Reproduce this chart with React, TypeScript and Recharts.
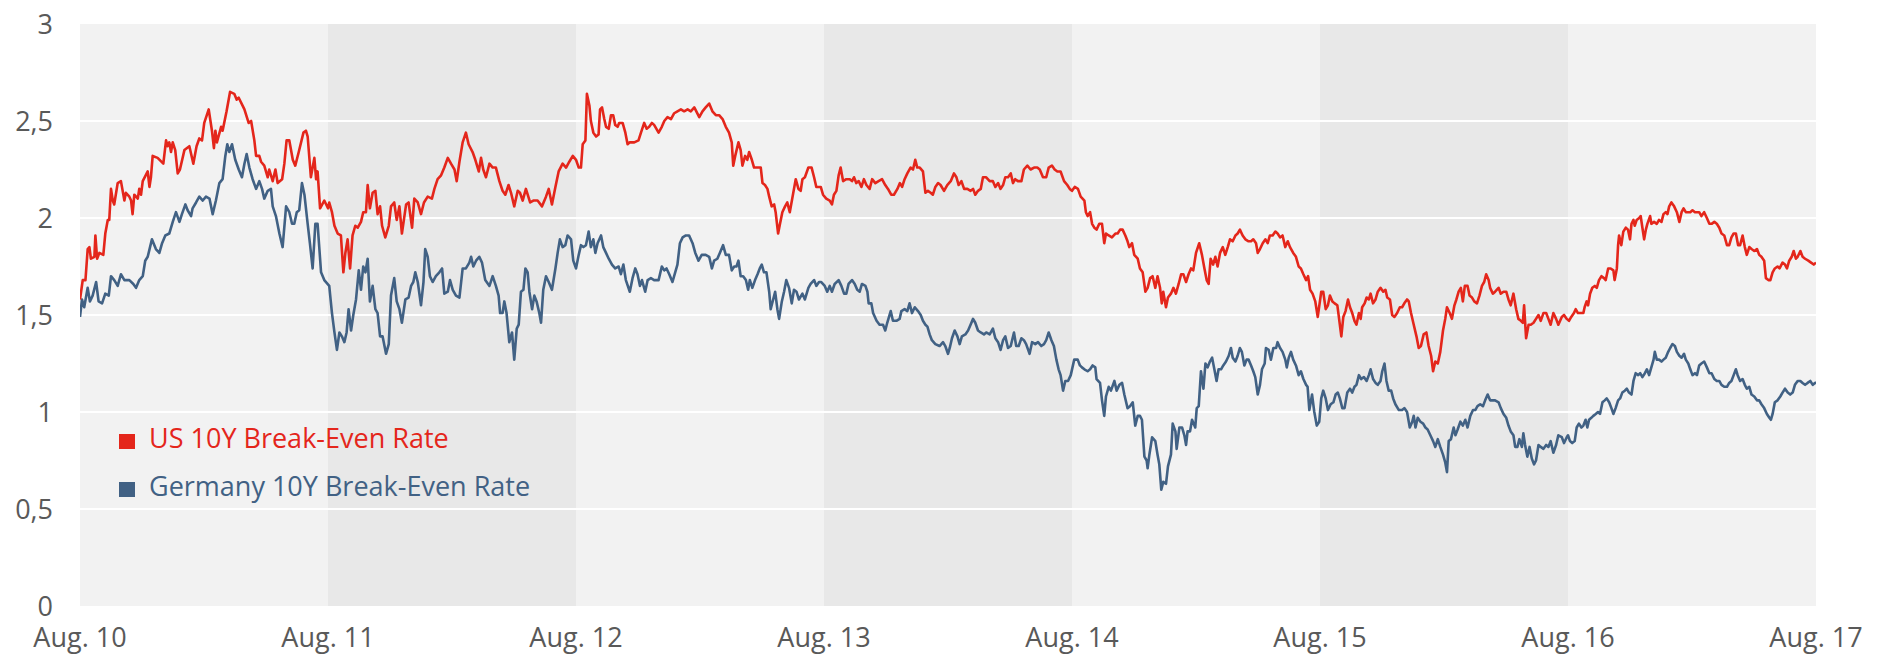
import React from "react";
import {
  LineChart,
  Line,
  XAxis,
  YAxis,
  ReferenceArea,
  ReferenceLine,
  Legend,
} from "recharts";

// ── Axis setup ──
// x is measured in years since Aug. 2010
const xTicks = [0, 1, 2, 3, 4, 5, 6, 7];
const xTickLabels = ["Aug. 10", "Aug. 11", "Aug. 12", "Aug. 13", "Aug. 14", "Aug. 15", "Aug. 16", "Aug. 17"];
const yTicks = [0, 0.5, 1, 1.5, 2, 2.5, 3];
const yGridLines = [0.5, 1, 1.5, 2, 2.5];
const shadedYears = [
  [1, 2],
  [3, 4],
  [5, 6],
];

const seriesNames = ["US 10Y Break-Even Rate", "Germany 10Y Break-Even Rate"];

// ── US 10Y break-even rate, [years since Aug. 10, %] ──
const usBreakEven = [
  [0.0, 1.58], [0.011, 1.68], [0.022, 1.68], [0.031, 1.84], [0.038, 1.85], [0.044, 1.79], [0.058, 1.8], [0.062, 1.91], [0.069, 1.79], [0.078, 1.82],
  [0.094, 1.81], [0.102, 1.92], [0.112, 1.99], [0.118, 1.99], [0.125, 2.15], [0.132, 2.09], [0.138, 2.07], [0.152, 2.18], [0.165, 2.19], [0.179, 2.09],
  [0.185, 2.13], [0.199, 2.11], [0.206, 2.09], [0.212, 2.02], [0.219, 2.12], [0.233, 2.1], [0.239, 2.15], [0.246, 2.12], [0.253, 2.19], [0.273, 2.24],
  [0.28, 2.16], [0.286, 2.21], [0.293, 2.32], [0.313, 2.31], [0.336, 2.28], [0.347, 2.4], [0.353, 2.37], [0.36, 2.39], [0.367, 2.34], [0.374, 2.39],
  [0.384, 2.35], [0.394, 2.23], [0.403, 2.25], [0.421, 2.35], [0.441, 2.37], [0.457, 2.28], [0.47, 2.37], [0.481, 2.41], [0.492, 2.4], [0.501, 2.49],
  [0.519, 2.56], [0.532, 2.45], [0.54, 2.36], [0.546, 2.45], [0.552, 2.39], [0.569, 2.47], [0.575, 2.45], [0.591, 2.55], [0.605, 2.65], [0.622, 2.64],
  [0.632, 2.61], [0.64, 2.62], [0.663, 2.56], [0.68, 2.49], [0.69, 2.5], [0.703, 2.4], [0.71, 2.32], [0.723, 2.32], [0.73, 2.29], [0.743, 2.27],
  [0.757, 2.21], [0.763, 2.25], [0.777, 2.19], [0.788, 2.25], [0.797, 2.18], [0.815, 2.2], [0.824, 2.28], [0.833, 2.4], [0.844, 2.4], [0.858, 2.3],
  [0.868, 2.27], [0.882, 2.34], [0.901, 2.44], [0.911, 2.45], [0.918, 2.42], [0.931, 2.21], [0.945, 2.31], [0.952, 2.2], [0.958, 2.24], [0.968, 2.05],
  [0.985, 2.09], [1.0, 2.05],
  [1.005, 2.08], [1.016, 2.03], [1.026, 1.96], [1.039, 1.92], [1.052, 1.91], [1.062, 1.72], [1.07, 1.82], [1.079, 1.89], [1.089, 1.74], [1.099, 1.91],
  [1.11, 1.96], [1.12, 1.95], [1.133, 1.98], [1.142, 2.03], [1.153, 2.03], [1.16, 2.17], [1.169, 2.05], [1.18, 2.13], [1.191, 2.14], [1.2, 2.02],
  [1.21, 2.06], [1.218, 1.96], [1.231, 1.9], [1.245, 1.96], [1.254, 2.06], [1.267, 2.08], [1.277, 1.99], [1.288, 2.06], [1.298, 1.92], [1.315, 2.07],
  [1.325, 2.08], [1.339, 1.95], [1.348, 2.1], [1.362, 2.08], [1.375, 2.02], [1.387, 2.08], [1.402, 2.11], [1.419, 2.1], [1.429, 2.15], [1.442, 2.2],
  [1.456, 2.22], [1.469, 2.26], [1.483, 2.31], [1.496, 2.28], [1.51, 2.25], [1.519, 2.19], [1.53, 2.29], [1.543, 2.39], [1.556, 2.44], [1.567, 2.38],
  [1.583, 2.34], [1.594, 2.3], [1.608, 2.24], [1.617, 2.31], [1.626, 2.25], [1.637, 2.21], [1.651, 2.28], [1.664, 2.26], [1.677, 2.26], [1.691, 2.19],
  [1.704, 2.14], [1.715, 2.12], [1.728, 2.17], [1.738, 2.13], [1.751, 2.06], [1.765, 2.14], [1.774, 2.13], [1.785, 2.09], [1.798, 2.15], [1.815, 2.08],
  [1.828, 2.09], [1.845, 2.09], [1.863, 2.06], [1.879, 2.11], [1.89, 2.15], [1.903, 2.07], [1.917, 2.16], [1.93, 2.24], [1.946, 2.28], [1.96, 2.26],
  [1.973, 2.29], [1.987, 2.32],
  [2.0, 2.3], [2.011, 2.26], [2.02, 2.26], [2.027, 2.38], [2.038, 2.4], [2.044, 2.64], [2.054, 2.58], [2.06, 2.5], [2.07, 2.44], [2.081, 2.42],
  [2.091, 2.43], [2.097, 2.56], [2.105, 2.57], [2.114, 2.51], [2.121, 2.47], [2.132, 2.46], [2.141, 2.53], [2.15, 2.53], [2.158, 2.48], [2.168, 2.47],
  [2.174, 2.49], [2.188, 2.49], [2.199, 2.44], [2.208, 2.38], [2.217, 2.39], [2.235, 2.39], [2.252, 2.4], [2.262, 2.44], [2.275, 2.49], [2.285, 2.46],
  [2.295, 2.47], [2.306, 2.49], [2.315, 2.48], [2.333, 2.44], [2.346, 2.47], [2.356, 2.5], [2.369, 2.52], [2.383, 2.51], [2.396, 2.54], [2.409, 2.55],
  [2.423, 2.56], [2.436, 2.55], [2.45, 2.56], [2.463, 2.55], [2.477, 2.57], [2.497, 2.52], [2.51, 2.55], [2.523, 2.57], [2.537, 2.59], [2.55, 2.55],
  [2.564, 2.53], [2.577, 2.53], [2.591, 2.51], [2.604, 2.47], [2.617, 2.44], [2.628, 2.39], [2.634, 2.27], [2.642, 2.32], [2.655, 2.39], [2.664, 2.35],
  [2.671, 2.27], [2.682, 2.32], [2.691, 2.3], [2.698, 2.34], [2.709, 2.3], [2.718, 2.26], [2.732, 2.26], [2.745, 2.26], [2.752, 2.18], [2.762, 2.17],
  [2.772, 2.15], [2.779, 2.11], [2.789, 2.06], [2.799, 2.07], [2.805, 2.03], [2.815, 1.92], [2.821, 1.96], [2.832, 2.03], [2.843, 2.06], [2.852, 2.08],
  [2.862, 2.03], [2.872, 2.1], [2.886, 2.2], [2.897, 2.15], [2.906, 2.14], [2.913, 2.2], [2.923, 2.21], [2.937, 2.26], [2.95, 2.26], [2.96, 2.21],
  [2.969, 2.16], [2.987, 2.16], [2.996, 2.12],
  [3.009, 2.1], [3.023, 2.09], [3.032, 2.07], [3.04, 2.12], [3.05, 2.14], [3.059, 2.22], [3.067, 2.26], [3.077, 2.19], [3.09, 2.2], [3.104, 2.2],
  [3.113, 2.19], [3.121, 2.21], [3.13, 2.18], [3.14, 2.19], [3.151, 2.16], [3.161, 2.2], [3.171, 2.17], [3.184, 2.15], [3.194, 2.2], [3.207, 2.18],
  [3.22, 2.19], [3.234, 2.2], [3.247, 2.17], [3.258, 2.15], [3.271, 2.12], [3.282, 2.12], [3.296, 2.15], [3.306, 2.18], [3.315, 2.16], [3.325, 2.2],
  [3.336, 2.23], [3.349, 2.26], [3.359, 2.25], [3.368, 2.3], [3.376, 2.26], [3.386, 2.26], [3.399, 2.24], [3.409, 2.13], [3.419, 2.14], [3.43, 2.13],
  [3.439, 2.12], [3.449, 2.16], [3.46, 2.18], [3.47, 2.17], [3.484, 2.14], [3.497, 2.17], [3.511, 2.19], [3.524, 2.23], [3.534, 2.21], [3.543, 2.17],
  [3.554, 2.19], [3.565, 2.15], [3.578, 2.15], [3.591, 2.14], [3.601, 2.15], [3.61, 2.12], [3.621, 2.14], [3.632, 2.15], [3.641, 2.21], [3.654, 2.21],
  [3.668, 2.19], [3.681, 2.19], [3.691, 2.16], [3.702, 2.18], [3.712, 2.15], [3.722, 2.17], [3.731, 2.21], [3.742, 2.21], [3.753, 2.23], [3.762, 2.18],
  [3.771, 2.2], [3.782, 2.19], [3.796, 2.19], [3.806, 2.25], [3.82, 2.27], [3.833, 2.25], [3.847, 2.26], [3.86, 2.26], [3.87, 2.25], [3.883, 2.21],
  [3.896, 2.21], [3.906, 2.26], [3.919, 2.27], [3.93, 2.25], [3.941, 2.24], [3.954, 2.24], [3.968, 2.19], [3.981, 2.17], [3.991, 2.15], [4.0, 2.14],
  [4.011, 2.16], [4.024, 2.15], [4.035, 2.11],
  [4.05, 2.09], [4.056, 2.03], [4.063, 2.01], [4.073, 2.03], [4.081, 1.97], [4.09, 1.95], [4.099, 1.94], [4.11, 1.97], [4.121, 1.97], [4.13, 1.87],
  [4.137, 1.92], [4.148, 1.91], [4.161, 1.9], [4.175, 1.92], [4.184, 1.92], [4.194, 1.94], [4.204, 1.94], [4.215, 1.91], [4.224, 1.88], [4.231, 1.85],
  [4.242, 1.87], [4.251, 1.81], [4.265, 1.79], [4.274, 1.74], [4.285, 1.72], [4.296, 1.62], [4.305, 1.64], [4.315, 1.69], [4.325, 1.7], [4.336, 1.64],
  [4.345, 1.7], [4.355, 1.64], [4.362, 1.56], [4.368, 1.62], [4.379, 1.54], [4.387, 1.59], [4.399, 1.61], [4.409, 1.64], [4.419, 1.61], [4.43, 1.66],
  [4.44, 1.71], [4.449, 1.71], [4.46, 1.67], [4.47, 1.71], [4.48, 1.74], [4.489, 1.73], [4.5, 1.82], [4.513, 1.87], [4.524, 1.81], [4.534, 1.74],
  [4.543, 1.68], [4.551, 1.66], [4.559, 1.79], [4.569, 1.76], [4.578, 1.8], [4.587, 1.75], [4.597, 1.82], [4.608, 1.85], [4.618, 1.81], [4.628, 1.85],
  [4.637, 1.89], [4.648, 1.88], [4.659, 1.91], [4.668, 1.92], [4.677, 1.94], [4.688, 1.91], [4.699, 1.89], [4.712, 1.88], [4.722, 1.88], [4.731, 1.89],
  [4.742, 1.87], [4.749, 1.82], [4.758, 1.84], [4.769, 1.87], [4.78, 1.89], [4.789, 1.87], [4.798, 1.91], [4.809, 1.91], [4.82, 1.93], [4.829, 1.92],
  [4.839, 1.9], [4.849, 1.91], [4.86, 1.85], [4.87, 1.88], [4.879, 1.85], [4.892, 1.82], [4.903, 1.8], [4.914, 1.75], [4.923, 1.74], [4.933, 1.71],
  [4.944, 1.68], [4.952, 1.7], [4.96, 1.63], [4.97, 1.61], [4.981, 1.57], [4.991, 1.49],
  [5.005, 1.62], [5.013, 1.62], [5.023, 1.53], [5.032, 1.55], [5.04, 1.6], [5.05, 1.57], [5.059, 1.56], [5.07, 1.55], [5.076, 1.49], [5.086, 1.39],
  [5.094, 1.49], [5.103, 1.52], [5.113, 1.58], [5.121, 1.54], [5.13, 1.51], [5.139, 1.47], [5.147, 1.45], [5.157, 1.51], [5.164, 1.48], [5.17, 1.54],
  [5.18, 1.56], [5.188, 1.59], [5.197, 1.58], [5.204, 1.61], [5.214, 1.56], [5.224, 1.58], [5.233, 1.62], [5.244, 1.64], [5.255, 1.62], [5.264, 1.63],
  [5.271, 1.59], [5.282, 1.58], [5.291, 1.5], [5.3, 1.49], [5.311, 1.51], [5.322, 1.54], [5.331, 1.54], [5.34, 1.56], [5.351, 1.58], [5.358, 1.57],
  [5.367, 1.51], [5.378, 1.45], [5.389, 1.39], [5.398, 1.33], [5.407, 1.34], [5.418, 1.4], [5.429, 1.41], [5.438, 1.34], [5.448, 1.29], [5.456, 1.21],
  [5.465, 1.26], [5.475, 1.25], [5.485, 1.31], [5.496, 1.42], [5.505, 1.48], [5.512, 1.54], [5.523, 1.51], [5.532, 1.48], [5.542, 1.55], [5.55, 1.58],
  [5.559, 1.62], [5.568, 1.64], [5.576, 1.57], [5.584, 1.65], [5.595, 1.65], [5.603, 1.6], [5.613, 1.59], [5.622, 1.57], [5.633, 1.56], [5.643, 1.6],
  [5.653, 1.65], [5.662, 1.67], [5.67, 1.71], [5.68, 1.68], [5.686, 1.64], [5.697, 1.61], [5.706, 1.62], [5.72, 1.64], [5.729, 1.61], [5.74, 1.62],
  [5.751, 1.62], [5.76, 1.58], [5.769, 1.55], [5.78, 1.61], [5.791, 1.53], [5.8, 1.48], [5.81, 1.47], [5.818, 1.46], [5.823, 1.55], [5.831, 1.38],
  [5.841, 1.45], [5.85, 1.45], [5.861, 1.46], [5.871, 1.48], [5.881, 1.5], [5.89, 1.47], [5.901, 1.51], [5.912, 1.51], [5.921, 1.48], [5.93, 1.45],
  [5.941, 1.51], [5.952, 1.48], [5.961, 1.45], [5.975, 1.49],
  [5.984, 1.5], [5.995, 1.48], [6.004, 1.47], [6.013, 1.49], [6.024, 1.51], [6.031, 1.53], [6.04, 1.51], [6.051, 1.51], [6.062, 1.51], [6.067, 1.54],
  [6.075, 1.57], [6.081, 1.55], [6.089, 1.61], [6.098, 1.64], [6.108, 1.65], [6.116, 1.64], [6.125, 1.68], [6.135, 1.7], [6.145, 1.69], [6.152, 1.68],
  [6.162, 1.74], [6.172, 1.74], [6.183, 1.73], [6.188, 1.68], [6.197, 1.74], [6.202, 1.86], [6.206, 1.91], [6.215, 1.86], [6.223, 1.93], [6.233, 1.95],
  [6.242, 1.94], [6.25, 1.89], [6.256, 1.97], [6.264, 1.99], [6.269, 1.96], [6.277, 1.99], [6.287, 2.0], [6.293, 2.01], [6.3, 1.95], [6.307, 1.89],
  [6.314, 1.94], [6.32, 1.97], [6.331, 2.01], [6.336, 1.97], [6.347, 1.98], [6.358, 1.97], [6.367, 1.99], [6.377, 1.98], [6.385, 2.02], [6.394, 2.03],
  [6.401, 2.02], [6.408, 2.06], [6.417, 2.08], [6.428, 2.06], [6.439, 2.03], [6.449, 1.98], [6.458, 2.03], [6.466, 2.05], [6.475, 2.03], [6.485, 2.03],
  [6.493, 2.03], [6.502, 2.04], [6.512, 2.03], [6.52, 2.03], [6.529, 2.03], [6.538, 2.01], [6.549, 2.03], [6.56, 2.0], [6.57, 1.97], [6.579, 1.97],
  [6.59, 1.98], [6.6, 1.97], [6.61, 1.95], [6.619, 1.92], [6.63, 1.91], [6.641, 1.86], [6.65, 1.86], [6.659, 1.9], [6.668, 1.92], [6.677, 1.92],
  [6.686, 1.86], [6.694, 1.86], [6.704, 1.91], [6.713, 1.85], [6.721, 1.81], [6.731, 1.85], [6.74, 1.84], [6.751, 1.83], [6.762, 1.84], [6.771, 1.81],
  [6.78, 1.8], [6.791, 1.78], [6.798, 1.69], [6.808, 1.68], [6.816, 1.68], [6.825, 1.72], [6.834, 1.74], [6.845, 1.75], [6.853, 1.74], [6.865, 1.77],
  [6.875, 1.76], [6.883, 1.74], [6.892, 1.78], [6.902, 1.8], [6.91, 1.83], [6.919, 1.79], [6.926, 1.8], [6.937, 1.83], [6.946, 1.8], [6.956, 1.79],
  [6.969, 1.78], [6.98, 1.77], [6.991, 1.76], [7.0, 1.77],
];

// ── Germany 10Y break-even rate, [years since Aug. 10, %] ──
const germanyBreakEven = [
  [0.0, 1.49], [0.008, 1.58], [0.017, 1.54], [0.031, 1.64], [0.04, 1.57], [0.051, 1.6], [0.065, 1.67], [0.075, 1.57], [0.089, 1.56], [0.102, 1.61],
  [0.116, 1.6], [0.125, 1.7], [0.138, 1.68], [0.152, 1.65], [0.165, 1.71], [0.179, 1.68], [0.199, 1.68], [0.215, 1.66], [0.226, 1.64], [0.239, 1.68],
  [0.253, 1.7], [0.263, 1.78], [0.273, 1.8], [0.29, 1.89], [0.306, 1.84], [0.32, 1.82], [0.331, 1.87], [0.344, 1.91], [0.36, 1.92], [0.374, 1.98],
  [0.387, 2.03], [0.401, 1.98], [0.411, 2.02], [0.425, 2.07], [0.434, 2.04], [0.448, 2.01], [0.454, 2.05], [0.468, 2.08], [0.481, 2.11], [0.495, 2.09],
  [0.508, 2.11], [0.522, 2.1], [0.535, 2.02], [0.548, 2.09], [0.562, 2.18], [0.575, 2.2], [0.586, 2.32], [0.594, 2.38], [0.602, 2.34], [0.613, 2.38],
  [0.626, 2.3], [0.64, 2.25], [0.653, 2.21], [0.663, 2.28], [0.672, 2.33], [0.683, 2.26], [0.696, 2.2], [0.71, 2.15], [0.723, 2.19], [0.734, 2.15],
  [0.743, 2.1], [0.757, 2.14], [0.77, 2.15], [0.777, 2.06], [0.79, 2.01], [0.804, 1.92], [0.817, 1.85], [0.831, 2.06], [0.844, 2.03], [0.855, 1.97],
  [0.864, 1.97], [0.874, 2.03], [0.884, 2.04], [0.895, 2.18], [0.905, 2.12], [0.918, 1.97], [0.927, 1.87], [0.938, 1.74], [0.949, 1.97], [0.958, 1.97],
  [0.972, 1.72], [0.985, 1.68],
  [1.005, 1.65], [1.016, 1.51], [1.026, 1.41], [1.036, 1.32], [1.046, 1.41], [1.056, 1.39], [1.066, 1.36], [1.075, 1.41], [1.083, 1.53], [1.093, 1.42],
  [1.102, 1.5], [1.113, 1.58], [1.124, 1.73], [1.133, 1.63], [1.142, 1.75], [1.151, 1.72], [1.16, 1.79], [1.169, 1.57], [1.18, 1.65], [1.191, 1.53],
  [1.2, 1.51], [1.21, 1.39], [1.22, 1.39], [1.234, 1.3], [1.245, 1.35], [1.254, 1.6], [1.267, 1.69], [1.277, 1.57], [1.288, 1.53], [1.298, 1.46],
  [1.312, 1.58], [1.325, 1.59], [1.335, 1.65], [1.344, 1.67], [1.352, 1.72], [1.362, 1.67], [1.375, 1.55], [1.385, 1.67], [1.392, 1.84], [1.402, 1.8],
  [1.411, 1.7], [1.422, 1.67], [1.435, 1.7], [1.449, 1.72], [1.46, 1.74], [1.469, 1.61], [1.483, 1.62], [1.492, 1.68], [1.503, 1.63], [1.516, 1.6],
  [1.53, 1.59], [1.543, 1.74], [1.556, 1.74], [1.57, 1.77], [1.577, 1.8], [1.586, 1.75], [1.597, 1.78], [1.61, 1.8], [1.621, 1.77], [1.634, 1.68],
  [1.651, 1.65], [1.664, 1.7], [1.677, 1.65], [1.688, 1.6], [1.694, 1.51], [1.704, 1.51], [1.711, 1.57], [1.72, 1.51], [1.731, 1.36], [1.742, 1.41],
  [1.751, 1.27], [1.761, 1.43], [1.769, 1.45], [1.778, 1.62], [1.788, 1.63], [1.796, 1.74], [1.805, 1.72], [1.812, 1.62], [1.823, 1.53], [1.832, 1.6],
  [1.841, 1.57], [1.852, 1.51], [1.859, 1.46], [1.868, 1.63], [1.879, 1.7], [1.89, 1.67], [1.903, 1.63], [1.917, 1.74], [1.926, 1.82], [1.935, 1.89],
  [1.946, 1.85], [1.957, 1.86], [1.966, 1.91], [1.98, 1.89], [1.989, 1.78],
  [2.0, 1.74], [2.011, 1.81], [2.02, 1.86], [2.03, 1.85], [2.04, 1.86], [2.051, 1.93], [2.06, 1.85], [2.07, 1.89], [2.078, 1.82], [2.087, 1.87],
  [2.101, 1.91], [2.11, 1.85], [2.121, 1.82], [2.132, 1.79], [2.145, 1.76], [2.158, 1.74], [2.172, 1.75], [2.181, 1.71], [2.191, 1.76], [2.201, 1.68],
  [2.217, 1.62], [2.228, 1.69], [2.239, 1.74], [2.248, 1.71], [2.258, 1.65], [2.266, 1.68], [2.279, 1.62], [2.289, 1.68], [2.302, 1.69], [2.315, 1.68],
  [2.333, 1.68], [2.346, 1.75], [2.356, 1.73], [2.365, 1.74], [2.376, 1.71], [2.389, 1.67], [2.4, 1.72], [2.409, 1.76], [2.419, 1.87], [2.43, 1.9],
  [2.443, 1.91], [2.456, 1.91], [2.47, 1.87], [2.481, 1.82], [2.494, 1.78], [2.507, 1.81], [2.523, 1.81], [2.537, 1.8], [2.548, 1.74], [2.557, 1.78],
  [2.57, 1.79], [2.58, 1.82], [2.593, 1.86], [2.604, 1.81], [2.617, 1.81], [2.628, 1.73], [2.638, 1.75], [2.647, 1.75], [2.655, 1.78], [2.664, 1.7],
  [2.674, 1.7], [2.685, 1.68], [2.694, 1.63], [2.701, 1.68], [2.711, 1.64], [2.722, 1.68], [2.732, 1.71], [2.741, 1.74], [2.749, 1.76], [2.758, 1.72],
  [2.768, 1.72], [2.779, 1.62], [2.785, 1.53], [2.795, 1.58], [2.803, 1.62], [2.812, 1.53], [2.819, 1.48], [2.83, 1.57], [2.839, 1.62], [2.848, 1.68],
  [2.859, 1.64], [2.87, 1.56], [2.879, 1.63], [2.889, 1.62], [2.899, 1.58], [2.913, 1.61], [2.923, 1.58], [2.937, 1.64], [2.946, 1.66], [2.96, 1.68],
  [2.969, 1.65], [2.98, 1.67],
  [2.989, 1.67], [3.003, 1.65], [3.013, 1.62], [3.023, 1.65], [3.032, 1.62], [3.043, 1.66], [3.059, 1.68], [3.07, 1.65], [3.081, 1.61], [3.09, 1.61],
  [3.099, 1.66], [3.113, 1.68], [3.124, 1.66], [3.134, 1.63], [3.144, 1.62], [3.153, 1.66], [3.167, 1.65], [3.175, 1.62], [3.18, 1.56], [3.191, 1.56],
  [3.198, 1.51], [3.212, 1.47], [3.224, 1.45], [3.238, 1.45], [3.247, 1.42], [3.255, 1.46], [3.269, 1.52], [3.278, 1.47], [3.292, 1.47], [3.305, 1.48],
  [3.312, 1.52], [3.325, 1.53], [3.336, 1.52], [3.345, 1.56], [3.355, 1.51], [3.366, 1.54], [3.379, 1.52], [3.39, 1.5], [3.399, 1.47], [3.409, 1.45],
  [3.417, 1.44], [3.426, 1.4], [3.435, 1.37], [3.449, 1.35], [3.466, 1.34], [3.48, 1.36], [3.489, 1.34], [3.5, 1.3], [3.507, 1.33], [3.516, 1.38],
  [3.527, 1.42], [3.538, 1.39], [3.547, 1.35], [3.556, 1.39], [3.57, 1.4], [3.581, 1.42], [3.591, 1.45], [3.601, 1.48], [3.61, 1.46], [3.621, 1.42],
  [3.632, 1.41], [3.645, 1.4], [3.654, 1.41], [3.668, 1.4], [3.681, 1.43], [3.691, 1.38], [3.702, 1.36], [3.712, 1.32], [3.722, 1.37], [3.731, 1.39],
  [3.742, 1.33], [3.753, 1.34], [3.766, 1.41], [3.775, 1.34], [3.785, 1.34], [3.796, 1.38], [3.806, 1.37], [3.815, 1.35], [3.829, 1.3], [3.839, 1.36],
  [3.852, 1.35], [3.863, 1.36], [3.876, 1.34], [3.887, 1.35], [3.896, 1.37], [3.906, 1.41], [3.917, 1.37], [3.927, 1.34], [3.937, 1.27], [3.946, 1.22],
  [3.954, 1.19], [3.964, 1.11], [3.973, 1.16], [3.984, 1.16], [3.995, 1.19],
  [4.009, 1.27], [4.023, 1.27], [4.032, 1.24], [4.04, 1.23], [4.05, 1.22], [4.063, 1.21], [4.073, 1.22], [4.083, 1.24], [4.094, 1.23], [4.099, 1.17],
  [4.113, 1.15], [4.121, 1.06], [4.13, 0.98], [4.137, 1.08], [4.148, 1.13], [4.157, 1.11], [4.171, 1.16], [4.18, 1.11], [4.191, 1.14], [4.202, 1.15],
  [4.211, 1.09], [4.224, 1.02], [4.234, 1.03], [4.245, 1.05], [4.255, 0.93], [4.265, 0.98], [4.274, 0.98], [4.282, 0.96], [4.292, 0.77], [4.301, 0.75],
  [4.305, 0.71], [4.312, 0.78], [4.323, 0.87], [4.336, 0.85], [4.345, 0.78], [4.352, 0.73], [4.36, 0.6], [4.368, 0.64], [4.379, 0.63], [4.387, 0.72],
  [4.399, 0.78], [4.406, 0.94], [4.417, 0.9], [4.422, 0.81], [4.433, 0.92], [4.444, 0.92], [4.453, 0.88], [4.46, 0.83], [4.466, 0.9], [4.476, 0.9],
  [4.484, 0.96], [4.497, 0.92], [4.503, 1.02], [4.511, 1.03], [4.52, 1.21], [4.53, 1.12], [4.538, 1.25], [4.547, 1.23], [4.556, 1.26], [4.565, 1.28],
  [4.574, 1.22], [4.583, 1.16], [4.591, 1.22], [4.601, 1.22], [4.61, 1.24], [4.621, 1.26], [4.632, 1.29], [4.641, 1.33], [4.648, 1.28], [4.659, 1.26],
  [4.668, 1.29], [4.677, 1.33], [4.685, 1.31], [4.695, 1.24], [4.704, 1.27], [4.712, 1.27], [4.722, 1.24], [4.731, 1.21], [4.739, 1.18], [4.749, 1.09],
  [4.758, 1.14], [4.766, 1.22], [4.777, 1.25], [4.782, 1.33], [4.793, 1.32], [4.802, 1.27], [4.812, 1.33], [4.823, 1.33], [4.829, 1.36], [4.839, 1.33],
  [4.849, 1.31], [4.86, 1.27], [4.866, 1.23], [4.874, 1.28], [4.883, 1.31], [4.892, 1.27], [4.903, 1.24], [4.914, 1.19], [4.923, 1.21], [4.933, 1.17],
  [4.944, 1.14], [4.95, 1.13], [4.957, 1.01], [4.968, 1.09], [4.977, 1.0], [4.987, 0.93], [4.997, 0.95],
  [5.005, 1.07], [5.013, 1.11], [5.023, 1.07], [5.032, 1.01], [5.043, 1.04], [5.054, 1.05], [5.063, 1.09], [5.072, 1.1], [5.08, 1.07], [5.09, 1.02],
  [5.099, 1.02], [5.11, 1.1], [5.121, 1.12], [5.13, 1.1], [5.139, 1.13], [5.147, 1.14], [5.157, 1.19], [5.166, 1.17], [5.177, 1.18], [5.188, 1.16],
  [5.197, 1.19], [5.204, 1.22], [5.214, 1.17], [5.224, 1.15], [5.233, 1.14], [5.244, 1.16], [5.251, 1.21], [5.26, 1.25], [5.268, 1.16], [5.277, 1.11],
  [5.287, 1.11], [5.295, 1.07], [5.304, 1.04], [5.318, 1.01], [5.331, 1.01], [5.34, 1.02], [5.351, 1.0], [5.362, 0.92], [5.372, 0.95], [5.378, 0.98],
  [5.385, 0.92], [5.394, 0.97], [5.405, 0.95], [5.416, 0.94], [5.425, 0.92], [5.434, 0.91], [5.445, 0.88], [5.456, 0.85], [5.465, 0.82], [5.475, 0.86],
  [5.485, 0.82], [5.496, 0.78], [5.505, 0.74], [5.512, 0.69], [5.519, 0.85], [5.528, 0.86], [5.539, 0.92], [5.546, 0.88], [5.555, 0.91], [5.566, 0.95],
  [5.576, 0.93], [5.586, 0.96], [5.595, 0.92], [5.606, 0.98], [5.617, 1.01], [5.626, 1.01], [5.635, 1.03], [5.646, 1.04], [5.657, 1.03], [5.666, 1.06],
  [5.676, 1.09], [5.686, 1.06], [5.697, 1.06], [5.706, 1.06], [5.72, 1.05], [5.729, 1.02], [5.74, 0.99], [5.751, 0.97], [5.76, 0.93], [5.769, 0.9],
  [5.78, 0.88], [5.787, 0.82], [5.796, 0.82], [5.804, 0.86], [5.814, 0.82], [5.82, 0.89], [5.827, 0.83], [5.836, 0.77], [5.845, 0.82], [5.854, 0.76],
  [5.863, 0.73], [5.871, 0.75], [5.881, 0.83], [5.89, 0.82], [5.901, 0.81], [5.912, 0.83], [5.921, 0.82], [5.93, 0.85], [5.941, 0.79], [5.952, 0.83],
  [5.961, 0.88], [5.975, 0.87],
  [5.984, 0.84], [5.995, 0.87], [6.0, 0.88], [6.008, 0.85], [6.017, 0.84], [6.027, 0.85], [6.035, 0.92], [6.044, 0.94], [6.054, 0.92], [6.062, 0.93],
  [6.071, 0.96], [6.078, 0.92], [6.085, 0.96], [6.094, 0.97], [6.102, 0.98], [6.112, 0.99], [6.121, 1.0], [6.129, 0.99], [6.139, 1.05], [6.148, 1.06],
  [6.156, 1.07], [6.166, 1.05], [6.175, 1.02], [6.183, 0.99], [6.192, 1.02], [6.202, 1.06], [6.21, 1.07], [6.219, 1.1], [6.229, 1.11], [6.237, 1.12],
  [6.246, 1.1], [6.256, 1.09], [6.264, 1.16], [6.273, 1.2], [6.283, 1.19], [6.291, 1.2], [6.3, 1.18], [6.31, 1.2], [6.318, 1.22], [6.327, 1.19],
  [6.336, 1.23], [6.345, 1.27], [6.35, 1.31], [6.358, 1.27], [6.367, 1.27], [6.377, 1.26], [6.385, 1.27], [6.394, 1.28], [6.404, 1.31], [6.412, 1.33],
  [6.421, 1.35], [6.431, 1.34], [6.439, 1.31], [6.449, 1.29], [6.458, 1.28], [6.468, 1.3], [6.475, 1.27], [6.485, 1.25], [6.493, 1.22], [6.502, 1.19],
  [6.512, 1.2], [6.52, 1.19], [6.529, 1.24], [6.538, 1.25], [6.549, 1.26], [6.56, 1.23], [6.57, 1.2], [6.579, 1.2], [6.59, 1.17], [6.6, 1.16],
  [6.61, 1.16], [6.619, 1.14], [6.63, 1.13], [6.641, 1.13], [6.65, 1.15], [6.659, 1.16], [6.668, 1.19], [6.677, 1.22], [6.684, 1.19], [6.694, 1.16],
  [6.704, 1.17], [6.713, 1.14], [6.721, 1.12], [6.731, 1.13], [6.74, 1.09], [6.751, 1.08], [6.762, 1.06], [6.771, 1.06], [6.78, 1.04], [6.791, 1.02],
  [6.802, 0.99], [6.812, 0.97], [6.818, 0.96], [6.825, 0.99], [6.834, 1.05], [6.845, 1.06], [6.856, 1.08], [6.865, 1.1], [6.875, 1.12], [6.886, 1.1],
  [6.896, 1.09], [6.906, 1.1], [6.915, 1.14], [6.926, 1.16], [6.937, 1.16], [6.946, 1.15], [6.956, 1.14], [6.966, 1.15], [6.977, 1.16], [6.987, 1.14],
  [6.996, 1.15], [7.0, 1.15],
];

const US_RED = "#e4261b";
const DE_BLUE = "#416184";
const TEXT_GREY = "#595959";
const FONT = "'Open Sans', 'Noto Sans', sans-serif";

const toPoints = (rows: number[][]) => rows.map(([t, v]) => ({ t, v }));

const formatRate = (val: number): string => String(val).replace(".", ",");

function LegendBox() {
  const items = [
    { label: seriesNames[0], color: US_RED },
    { label: seriesNames[1], color: DE_BLUE },
  ];
  return (
    <div style={{ fontFamily: FONT, fontSize: 27 }}>
      {items.map((it) => (
        <div key={it.label} style={{ display: "flex", alignItems: "flex-start", height: 48.4, lineHeight: "48px" }}>
          <span
            style={{
              display: "inline-block",
              width: 16,
              height: 15,
              marginTop: 19.5,
              marginRight: 14,
              background: it.color,
            }}
          />
          <span style={{ color: it.color, whiteSpace: "nowrap" }}>{it.label}</span>
        </div>
      ))}
    </div>
  );
}

export default function App() {
  const usData = toPoints(usBreakEven);
  const deData = toPoints(germanyBreakEven);

  return (
    <div
      style={{
        position: "absolute",
        left: 0,
        top: 0,
        width: 1889,
        height: 661,
        background: "#ffffff",
        fontFamily: FONT,
      }}
    >
      <LineChart width={1889} height={661} margin={{ top: 24, right: 73, bottom: 0, left: 0 }}>
        {/* plot background and shaded alternate years */}
        <ReferenceArea x1={0} x2={7} y1={0} y2={3} fill="#f2f2f2" fillOpacity={1} stroke="none" />
        {shadedYears.map(([a, b]) => (
          <ReferenceArea key={a} x1={a} x2={b} y1={0} y2={3} fill="#e8e8e8" fillOpacity={1} stroke="none" />
        ))}
        {yGridLines.map((y) => (
          <ReferenceLine key={y} y={y} stroke="#ffffff" strokeWidth={2} />
        ))}

        <XAxis
          type="number"
          dataKey="t"
          domain={[0, 7]}
          ticks={xTicks}
          interval={0}
          allowDataOverflow
          tickFormatter={(v: number) => xTickLabels[v] ?? ""}
          axisLine={false}
          tickLine={false}
          tickSize={0}
          tickMargin={22}
          height={55}
          tick={{ fill: TEXT_GREY, fontSize: 27, fontFamily: FONT }}
        />
        <YAxis
          type="number"
          domain={[0, 3]}
          ticks={yTicks}
          interval={0}
          tickFormatter={formatRate}
          axisLine={false}
          tickLine={false}
          tickSize={0}
          tickMargin={27}
          width={80}
          tick={{ fill: TEXT_GREY, fontSize: 27, fontFamily: FONT }}
        />

        <Legend
          layout="vertical"
          align="center"
          verticalAlign="middle"
          wrapperStyle={{ left: 119, top: 414, width: 500 }}
          content={() => <LegendBox />}
        />

        <Line
          data={deData}
          dataKey="v"
          name={seriesNames[1]}
          type="linear"
          stroke={DE_BLUE}
          strokeWidth={2.6}
          strokeLinejoin="round"
          dot={false}
          activeDot={false}
          isAnimationActive={false}
        />
        <Line
          data={usData}
          dataKey="v"
          name={seriesNames[0]}
          type="linear"
          stroke={US_RED}
          strokeWidth={2.6}
          strokeLinejoin="round"
          dot={false}
          activeDot={false}
          isAnimationActive={false}
        />
      </LineChart>
    </div>
  );
}
